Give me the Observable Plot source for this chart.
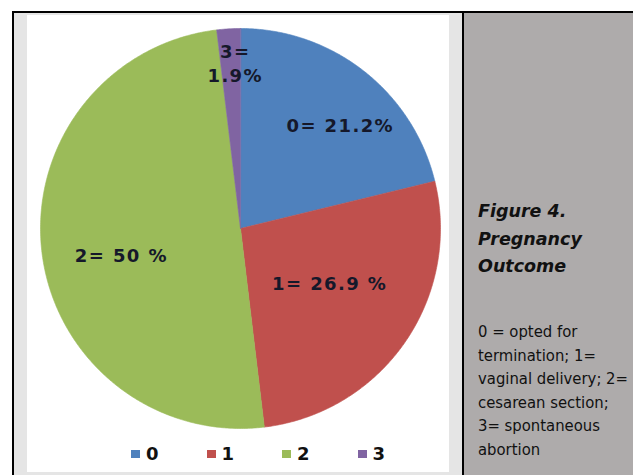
<!DOCTYPE html>
<html>
<head>
<meta charset="utf-8">
<script src="https://cdn.jsdelivr.net/npm/d3@7"></script>
<script src="https://cdn.jsdelivr.net/npm/@observablehq/plot@0.6"></script>
<style>
  body { margin: 0; background: #fff; }
  #page { position: relative; width: 633px; height: 475px; overflow: hidden; background: #fff; }
  .rule { position: absolute; background: #000; }
  #left-cell { position: absolute; left: 14px; top: 13px; width: 448px; height: 462px; background: #e5e5e5; }
  #chart-area { position: absolute; left: 27px; top: 15px; width: 422px; height: 457px; background: #fff; }
  #chart-area > svg { position: absolute; left: 0; top: 0; }
  .pie text { letter-spacing: 1.4px; }
  #legend { position: absolute; left: 104px; top: 428px; }
  .lg-swatches { font-family: "DejaVu Sans", sans-serif !important; font-size: 18px !important; font-weight: bold; color: #111; min-height: 0 !important; margin: 0 !important; }
  .lg-swatch { margin-right: 48px !important; }
  .lg-swatch > svg { margin-right: 6px !important; }
  #right-cell { position: absolute; left: 464px; top: 13px; width: 169px; height: 462px; background: #aeabab; color: #111; }
  #caption-title { position: absolute; left: 14px; top: 185px; font-family: "DejaVu Sans", sans-serif; font-weight: bold; font-style: italic; font-size: 17.5px; line-height: 27.5px; white-space: nowrap; }
  #caption-text { position: absolute; left: 14px; top: 307px; font-family: "DejaVu Sans", sans-serif; font-stretch: condensed; font-size: 16.5px; line-height: 23.6px; white-space: nowrap; }
</style>
</head>
<body>
<div id="page">
  <div id="left-cell"></div>
  <div id="chart-area"><div id="legend"></div></div>
  <div id="right-cell">
    <div id="caption-title">Figure 4.<br>Pregnancy<br>Outcome</div>
    <div id="caption-text">0 = opted for<br>termination; 1=<br>vaginal delivery; 2=<br>cesarean section;<br>3= spontaneous<br>abortion</div>
  </div>
  <div class="rule" style="left:12px;top:11px;width:621px;height:2px"></div>
  <div class="rule" style="left:12px;top:11px;width:2px;height:464px"></div>
  <div class="rule" style="left:462px;top:11px;width:2px;height:464px"></div>
</div>
<script>
// Pregnancy outcome categories and their shares (%)
const categories = ["0", "1", "2", "3"];
const percentages = [21.2, 26.9, 50, 1.9];
const sliceColors = ["#4f81bd", "#c0504d", "#9bbb59", "#8064a2"];
// Label text patterns; "#" is replaced by the slice's percentage
const labelPatterns = ["= #%", "= # %", "= # %", "=\n#%"];

// Label placement: radius as a fraction of the pie, and a small turn (degrees) off the slice middle
const labelRadius = [0.72, 0.52, 0.61, 0.83];
const labelTurn = [5.7, -3.8, -5.6, 1.6];

// Slice angles, clockwise from 12 o'clock
const arcs = d3.pie().sort(null).value(d => d)(percentages);

// Each slice as a closed polygon in unit-circle coordinates (y up)
const slices = arcs.flatMap((a, i) => {
  const n = Math.max(2, Math.ceil((a.endAngle - a.startAngle) / (Math.PI / 360)));
  const pts = [{key: categories[i], x: 0, y: 0}];
  for (let k = 0; k <= n; ++k) {
    const t = a.startAngle + (a.endAngle - a.startAngle) * k / n;
    pts.push({key: categories[i], x: Math.sin(t), y: Math.cos(t)});
  }
  return pts;
});

const labels = arcs.map((a, i) => {
  const t = (a.startAngle + a.endAngle) / 2 + labelTurn[i] * Math.PI / 180;
  return {
    x: labelRadius[i] * Math.sin(t),
    y: labelRadius[i] * Math.cos(t),
    text: categories[i] + labelPatterns[i].replace("#", percentages[i])
  };
});

const colorScale = {domain: categories, range: sliceColors};

const pie = Plot.plot({
  className: "pie",
  width: 422,
  height: 457,
  margin: 0,
  style: {background: "transparent", overflow: "visible"},
  x: {domain: [-1, 1], range: [13, 413], axis: null},
  y: {domain: [-1, 1], range: [413, 13], axis: null},
  color: colorScale,
  marks: [
    Plot.line(slices, {
      x: "x", y: "y", z: "key", fill: "key", stroke: "key",
      strokeWidth: 0.6, curve: "linear-closed"
    }),
    Plot.text(labels, {
      x: "x", y: "y", text: "text",
      fill: "#15182a", fontSize: 18, fontWeight: "bold",
      fontFamily: "DejaVu Sans, sans-serif", lineHeight: 1.33
    })
  ]
});
document.getElementById("chart-area").prepend(pie);

const legend = Plot.legend({
  color: colorScale,
  legend: "swatches",
  className: "lg",
  swatchWidth: 9,
  swatchHeight: 8
});
document.getElementById("legend").append(legend);
</script>
</body>
</html>
